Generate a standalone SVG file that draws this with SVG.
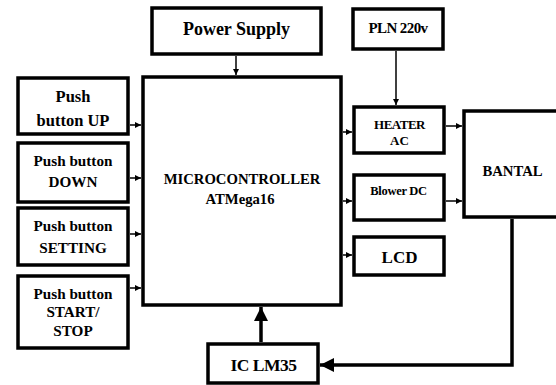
<svg xmlns="http://www.w3.org/2000/svg" width="556" height="385" viewBox="0 0 556 385">
<style>
.box{fill:#fff;stroke:#000;stroke-width:3.5}
.t{font-family:"Liberation Serif","Times New Roman",serif;font-weight:bold;fill:#000;text-anchor:middle}
.c{stroke:#000;stroke-width:1.5;fill:none}
.ck{stroke:#000;stroke-width:3.5;fill:none}
</style>
<defs>
<marker id="a" viewBox="0 0 10 10" refX="10" refY="5" markerWidth="6" markerHeight="6" markerUnits="userSpaceOnUse" orient="auto"><path d="M0,0 L10,5 L0,10 z" fill="#000"/></marker>
<marker id="b" viewBox="0 0 10 10" refX="10" refY="5" markerWidth="4" markerHeight="4" orient="auto"><path d="M0,0 L10,5 L0,10 z" fill="#000"/></marker>
</defs>
<g id="power"><rect class="box" x="152" y="8" width="169" height="46"/><text class="t" x="236.5" y="34.5" font-size="18">Power Supply</text></g>
<g id="pln"><rect class="box" x="353" y="9" width="90" height="40"/><text class="t" x="398" y="32.5" font-size="15" letter-spacing="-0.6">PLN 220v</text></g>
<g id="mcu"><rect class="box" x="143" y="77" width="198" height="228" stroke-width="4"/><text class="t" x="242" y="183.5" font-size="14.7">MICROCONTROLLER</text><text class="t" x="240" y="203.5" font-size="14.7">ATMega16</text></g>
<g id="up"><rect class="box" x="18" y="78" width="110" height="56"/><text class="t" x="73" y="101.5" font-size="16.5">Push</text><text class="t" x="73" y="126" font-size="16.5">button UP</text></g>
<g id="down"><rect class="box" x="18" y="143" width="110" height="59"/><text class="t" x="73" y="166" font-size="15.2">Push button</text><text class="t" x="73" y="187" font-size="15.2">DOWN</text></g>
<g id="setting"><rect class="box" x="18" y="208" width="110" height="57"/><text class="t" x="73" y="230.5" font-size="15.2">Push button</text><text class="t" x="73" y="252.5" font-size="15.2">SETTING</text></g>
<g id="start"><rect class="box" x="18" y="276" width="110" height="72"/><text class="t" x="73" y="298.5" font-size="15.2">Push button</text><text class="t" x="73" y="317" font-size="15.2">START/</text><text class="t" x="73" y="336" font-size="15.2">STOP</text></g>
<g id="heater"><rect class="box" x="354" y="107" width="90" height="46"/><text class="t" x="399.5" y="128.5" font-size="13" letter-spacing="-0.5">HEATER</text><text class="t" x="399.5" y="145" font-size="13">AC</text></g>
<g id="blower"><rect class="box" x="354" y="175" width="90" height="45"/><text class="t" x="398.5" y="195" font-size="12.5" letter-spacing="-0.3">Blower DC</text></g>
<g id="lcd"><rect class="box" x="354" y="237" width="90" height="38"/><text class="t" x="399.5" y="262.5" font-size="17">LCD</text></g>
<g id="bantal"><rect class="box" x="464" y="111" width="100" height="106"/><text class="t" x="512.5" y="176" font-size="14.7">BANTAL</text></g>
<g id="lm35"><rect class="box" x="208" y="344" width="110" height="39"/><text class="t" x="263.5" y="371" font-size="17.5" letter-spacing="-0.5">IC LM35</text></g>
<g id="connectors">
<line class="c" x1="236" y1="56" x2="236" y2="75" marker-end="url(#a)"/>
<line class="c" x1="396" y1="51" x2="396" y2="105" marker-end="url(#a)"/>
<line class="c" x1="130" y1="125" x2="141" y2="125" marker-end="url(#a)"/>
<line class="c" x1="130" y1="178" x2="141" y2="178" marker-end="url(#a)"/>
<line class="c" x1="130" y1="234" x2="141" y2="234" marker-end="url(#a)"/>
<line class="c" x1="130" y1="288" x2="141" y2="288" marker-end="url(#a)"/>
<line class="c" x1="343" y1="132" x2="352" y2="132" marker-end="url(#a)"/>
<line class="c" x1="343" y1="201" x2="352" y2="201" marker-end="url(#a)"/>
<line class="c" x1="343" y1="255" x2="352" y2="255" marker-end="url(#a)"/>
<line class="c" x1="446" y1="126" x2="462" y2="126" marker-end="url(#a)"/>
<line class="c" x1="446" y1="201" x2="462" y2="201" marker-end="url(#a)"/>
<line class="ck" x1="261" y1="342" x2="261" y2="307" marker-end="url(#b)"/>
<polyline class="ck" points="512,219 512,365 320,365" marker-end="url(#b)"/>
</g>
</svg>
